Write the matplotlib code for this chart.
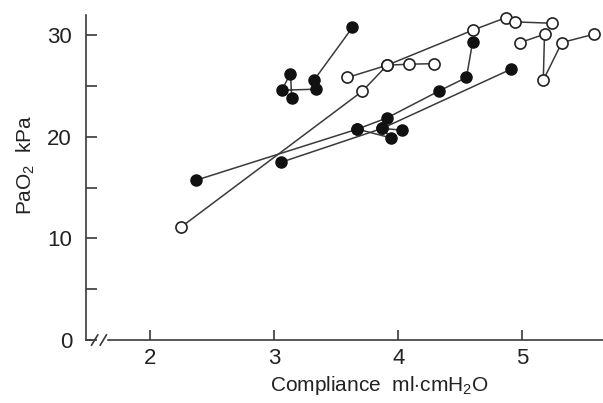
import numpy as np
import matplotlib.pyplot as plt

plt.rcParams['font.family'] = ['Liberation Sans', 'DejaVu Sans']
plt.rcParams['mathtext.fontset'] = 'custom'
plt.rcParams['mathtext.rm'] = 'Liberation Sans'

# Filled circles (one trace per patient)
filled_a_x = [3.63, 3.32, 3.34, 3.06, 3.13, 3.14]
filled_a_y = [30.75, 25.57, 24.68, 24.58, 26.22, 23.86]
filled_b_x = [2.37, 3.67, 3.91, 4.33, 4.55, 4.60]
filled_b_y = [15.73, 20.75, 21.86, 24.51, 25.83, 29.33]
filled_c_x = [3.05, 3.87, 4.91]
filled_c_y = [17.47, 20.82, 26.65]
filled_d_x = [4.03, 3.87, 3.94, 3.67]
filled_d_y = [20.65, 20.82, 19.89, 20.75]

# Open circles
open_a_x = [2.25, 3.71, 3.91, 4.60, 4.87, 4.94, 5.24]
open_a_y = [11.14, 24.48, 27.04, 30.48, 31.73, 31.30, 31.17]
open_b_x = [3.59, 3.91, 4.09, 4.29]
open_b_y = [25.83, 27.04, 27.14, 27.19]
open_c_x = [4.98, 5.18, 5.17, 5.32, 5.58]
open_c_y = [29.25, 30.09, 25.57, 29.27, 30.09]

x_ticks = [2, 3, 4, 5]
y_ticks = [0, 10, 20, 30]

line_col = '#3a3a3a'
text_col = '#222222'

fig = plt.figure(figsize=(6.03, 4.03), dpi=100)
ax = fig.add_axes([0.1426, 0.1563, 0.857, 0.806])

filled = [(filled_a_x, filled_a_y), (filled_b_x, filled_b_y),
          (filled_c_x, filled_c_y), (filled_d_x, filled_d_y)]
opened = [(open_a_x, open_a_y), (open_b_x, open_b_y), (open_c_x, open_c_y)]

for xs, ys in filled + opened:
    ax.plot(xs, ys, '-', color=line_col, lw=1.1, zorder=2)

for xs, ys in filled:
    ax.plot(xs, ys, 'o', ms=8, mfc='#111111', mec='#111111', ls='none', zorder=3, clip_on=False)
for xs, ys in opened:
    ax.plot(xs, ys, 'o', ms=8, mfc='white', mec='#222222', mew=1.2, ls='none', zorder=3, clip_on=False)

ax.set_xlim(1.48, 5.65)
ax.set_ylim(0, 31.96)

ax.spines['top'].set_visible(False)
ax.spines['right'].set_visible(False)
for s in ['left', 'bottom']:
    ax.spines[s].set_color(line_col)
    ax.spines[s].set_linewidth(1.2)
ax.spines['bottom'].set_bounds(1.66, 5.65)

# axis break marks near the origin
ax.plot([1.48, 1.52], [0, 0], color=line_col, lw=1.2, clip_on=False)
ax.plot([1.525, 1.575], [-0.5, 0.5], color=line_col, lw=1.2, clip_on=False)
ax.plot([1.595, 1.645], [-0.5, 0.5], color=line_col, lw=1.2, clip_on=False)

ax.set_xticks(x_ticks)
ax.set_yticks(y_ticks)
ax.set_yticks([5, 15, 25], minor=True)
ax.tick_params(axis='both', which='both', direction='in', color=line_col, width=1.2,
               labelcolor=text_col, labelsize=16)
ax.tick_params(axis='y', which='both', length=8, pad=10)
ax.tick_params(axis='x', length=7, pad=6)

ax.set_ylabel(r'PaO$_2$  kPa', fontsize=15, color=text_col)
ax.yaxis.set_label_coords(-0.095, 0.54)
ax.set_xlabel(r'Compliance  ml$\cdot$cmH$_2$O', fontsize=15, color=text_col)
ax.xaxis.set_label_coords(0.567, -0.105)

fig.savefig('out.png', dpi=100)
